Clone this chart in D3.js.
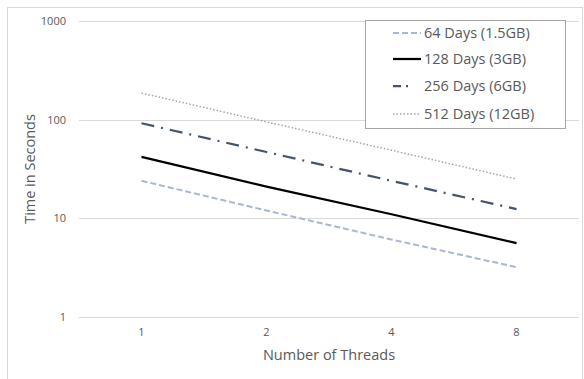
<!DOCTYPE html>
<html><head><meta charset="utf-8">
<script src="https://cdn.jsdelivr.net/npm/d3@7"></script>
<style>body{margin:0;background:#fff}svg{display:block;font-family:"Open Sans",sans-serif}</style>
</head><body><svg id="c" width="584" height="379"></svg>
<script>
const threads = ["1","2","4","8"];
const yTicks = [1,10,100,1000];
const seriesNames = ["64 Days (1.5GB)","128 Days (3GB)","256 Days (6GB)","512 Days (12GB)"];
const s64 = [24, 12, 6.1, 3.2];
const s128 = [42, 21, 11, 5.6];
const s256 = [92, 47, 24, 12.4];
const s512 = [186, 95, 49, 25];
const allSeries = [s64, s128, s256, s512];
const styles = [
  {stroke:"#a9b7d0", width:2, dash:"6,3"},
  {stroke:"#000000", width:2.25, dash:null},
  {stroke:"#44546a", width:2.25, dash:"13,7,2,7"},
  {stroke:"#a5a5a5", width:1.5, dash:"1.5,2"}
];
const svg = d3.select("#c");
svg.append("rect").attr("x",7.5).attr("y",7.5).attr("width",575).attr("height",380).attr("fill","none").attr("stroke","#d9d9d9");
const x = d3.scaleBand().domain(threads).range([79,579]);
const y = d3.scaleLog().domain([1,1000]).range([317,21]);
const g = svg.append("g");
g.selectAll("line.grid").data(yTicks).join("line").attr("class","grid")
 .attr("x1",79).attr("x2",579).attr("y1",d=>Math.round(y(d))+0.5).attr("y2",d=>Math.round(y(d))+0.5)
 .attr("stroke","#d9d9d9").attr("stroke-width",1);
g.selectAll("text.yt").data(yTicks).join("text").attr("class","yt")
 .attr("x",66).attr("y",d=>y(d)+4).attr("text-anchor","end").attr("font-size",11).attr("fill","#595959").text(d=>d);
g.selectAll("text.xt").data(threads).join("text").attr("class","xt")
 .attr("x",d=>x(d)+x.bandwidth()/2).attr("y",336).attr("text-anchor","middle").attr("font-size",11).attr("fill","#595959").text(d=>d);
svg.append("text").attr("x",329).attr("y",360).attr("text-anchor","middle").attr("font-size",14.5).attr("fill","#595959").text("Number of Threads");
svg.append("text").attr("transform","translate(35,169) rotate(-90)").attr("text-anchor","middle").attr("font-size",14.5).attr("fill","#595959").text("Time in Seconds");
const line = d3.line().x((d,i)=>x(threads[i])+x.bandwidth()/2).y(d=>y(d));
allSeries.forEach((s,i)=>{
  svg.append("path").attr("d",line(s)).attr("fill","none").attr("stroke",styles[i].stroke)
   .attr("stroke-width",styles[i].width).attr("stroke-dasharray",styles[i].dash);
});
const lg = svg.append("g");
lg.append("rect").attr("x",365.5).attr("y",20.5).attr("width",200).attr("height",108).attr("fill","#fff").attr("stroke","#a6a6a6");
seriesNames.forEach((n,i)=>{
  const yy = [33,59,86,114][i];
  lg.append("line").attr("x1",393).attr("x2",421).attr("y1",yy).attr("y2",yy)
   .attr("stroke",styles[i].stroke).attr("stroke-width",styles[i].width).attr("stroke-dasharray",i===2?"8,5,2,20":styles[i].dash);
  lg.append("text").attr("x",424).attr("y",yy+5).attr("font-size",14.5).attr("fill","#595959").text(n);
});
</script></body></html>
